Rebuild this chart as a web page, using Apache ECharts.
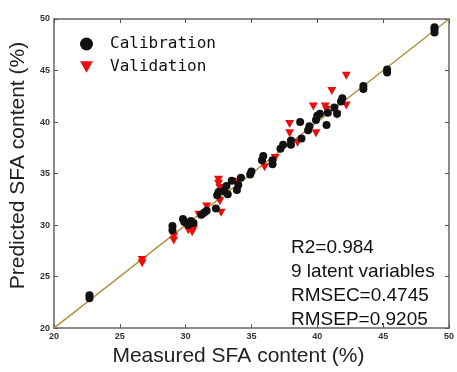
<!DOCTYPE html>
<html>
<head>
<meta charset="utf-8">
<script src="https://cdn.jsdelivr.net/npm/echarts@6/dist/echarts.min.js"></script>
<style>
  html, body { margin: 0; padding: 0; background: #fff; }
  #chart { width: 457px; height: 372px; }
</style>
</head>
<body>
<div id="chart"></div>
<script>
// measured vs predicted SFA content (%)
const calX = [22.7, 22.7, 29.0, 29.0, 29.8, 29.9, 30.2, 30.4, 30.6, 31.2, 31.4, 31.6, 32.3, 32.4, 32.5, 32.9,
  33.1, 33.2, 33.5, 33.9, 34.0, 34.2, 34.9, 35.0, 35.8, 35.9, 36.6, 36.6, 37.2, 37.4, 38.0, 38.0,
  38.8, 38.7, 39.3, 39.4, 39.9, 40.0, 40.2, 40.7, 40.8, 41.3, 41.5, 41.8, 41.9, 43.5, 43.5, 45.3,
  45.3, 48.9, 48.9, 48.9];
const calY = [22.9, 23.2, 29.5, 29.9, 30.6, 30.3, 30.0, 30.4, 30.2, 31.0, 31.2, 31.4, 31.6, 32.9, 33.2, 33.3,
  33.8, 33.0, 34.3, 33.4, 33.9, 34.6, 34.9, 35.2, 36.3, 36.7, 35.9, 36.3, 37.4, 37.8, 37.8, 38.2,
  38.4, 40.0, 39.2, 39.6, 40.2, 40.6, 40.8, 39.7, 40.9, 41.4, 40.8, 42.0, 42.3, 43.2, 43.5, 44.8,
  45.1, 48.7, 49.0, 49.2];
const valX = [26.7, 26.7, 29.1, 29.1, 30.2, 30.5, 30.6, 31.0, 31.6, 32.5, 32.5, 32.6, 32.6, 32.7,
  33.8, 36.0, 36.8, 37.9, 37.9, 38.5, 39.9, 39.7, 40.6, 40.7, 41.1, 41.5, 42.2, 42.2];
const valY = [26.3, 26.6, 28.5, 28.9, 29.5, 29.3, 29.6, 31.0, 31.8, 34.4, 34.0, 33.6, 32.3, 31.2,
  34.2, 35.6, 36.5, 38.9, 39.8, 38.0, 38.9, 41.5, 41.5, 41.2, 43.0, 40.7, 41.6, 44.5];
const fitLine = [[20, 20], [50, 50]];
const statLines = ['R2=0.984', '9 latent variables', 'RMSEC=0.4745', 'RMSEP=0.9205'];

const zip = (xs, ys) => xs.map((x, i) => [x, ys[i]]);
const downTri = 'path://M0,0 L10,0 L5,9 Z';

const chart = echarts.init(document.getElementById('chart'));

const axisBase = {
  type: 'value',
  min: 20,
  max: 50,
  interval: 5,
  splitLine: { show: false },
  axisLine: { show: true, lineStyle: { color: '#666', width: 1.5 } },
  axisTick: { show: true, inside: true, length: 4, lineStyle: { color: '#555' } },
};
const tickFont = { color: '#333', fontSize: 9, fontWeight: 'bold', fontFamily: 'Arial' };

chart.setOption({
  backgroundColor: '#fff',
  animation: false,
  grid: { left: 48, top: 19, right: 8, bottom: 33 },
  legend: {
    orient: 'vertical',
    left: 75,
    top: 31,
    itemWidth: 13,
    itemHeight: 13,
    itemGap: 7,
    textStyle: { fontFamily: 'DejaVu Sans Mono', fontSize: 16, color: '#111', padding: [0, 0, 0, 12] },
    data: [
      { name: 'Calibration', icon: 'circle' },
      { name: 'Validation', icon: downTri },
    ],
  },
  xAxis: [
    {
      ...axisBase,
      position: 'bottom',
      axisLabel: { ...tickFont, margin: 4 },
      name: 'Measured SFA content (%)',
      nameLocation: 'middle',
      nameGap: 9,
      nameTextStyle: { fontFamily: 'Arial', fontSize: 21, color: '#222', padding: [0, 26, 0, 0] },
    },
    { ...axisBase, position: 'top', axisLabel: { show: false } },
  ],
  yAxis: [
    {
      ...axisBase,
      position: 'left',
      axisLabel: { ...tickFont, margin: 4 },
      name: 'Predicted SFA content (%)',
      nameLocation: 'middle',
      nameGap: 21,
      nameTextStyle: { fontFamily: 'Arial', fontSize: 21, color: '#222', padding: [0, 0, 0, 16] },
    },
    { ...axisBase, position: 'right', axisLabel: { show: false } },
  ],
  graphic: [
    {
      type: 'text',
      left: 291,
      top: 236,
      style: {
        text: statLines.join('\n'),
        fontFamily: 'Arial',
        fontSize: 19,
        lineHeight: 24,
        fill: '#111',
      },
    },
  ],
  series: [
    {
      type: 'line',
      data: fitLine,
      symbol: 'none',
      lineStyle: { color: '#b0913e', width: 1.5 },
      z: 1,
      silent: true,
    },
    {
      name: 'Calibration',
      type: 'scatter',
      data: zip(calX, calY),
      symbol: 'circle',
      symbolSize: 8,
      itemStyle: { color: '#111', opacity: 1 },
      z: 3,
    },
    {
      name: 'Validation',
      type: 'scatter',
      data: zip(valX, valY),
      symbol: downTri,
      symbolSize: [9, 8],
      itemStyle: { color: '#e8100e', opacity: 1 },
      z: 2,
    },
  ],
});
</script>
</body>
</html>
